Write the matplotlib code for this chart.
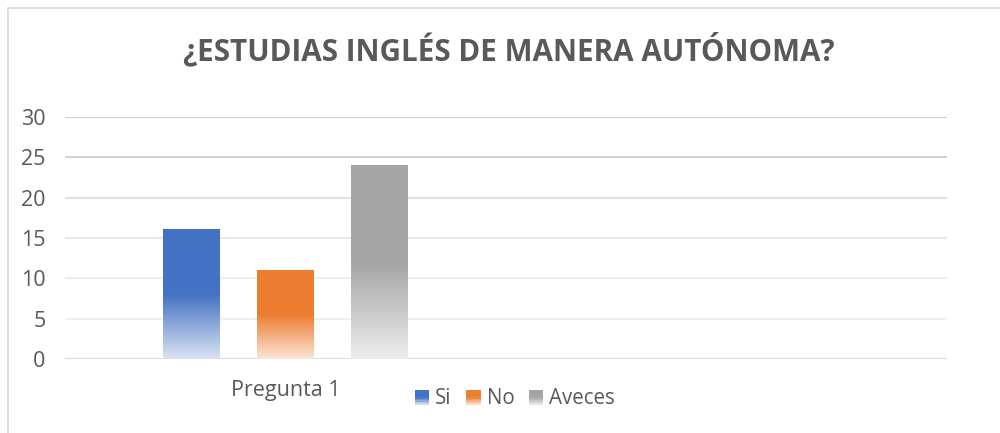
import numpy as np
import matplotlib
matplotlib.use("Agg")
import matplotlib.pyplot as plt
from matplotlib.patches import Rectangle
from matplotlib.colors import to_rgb
from matplotlib.legend_handler import HandlerBase

# ---- data ----
categories = ["Pregunta 1", ""]
series_names = ["Si", "No", "Aveces"]
series_values = {"Si": [16, None], "No": [11, None], "Aveces": [24, None]}
yticks = [0, 5, 10, 15, 20, 25, 30]
title = "¿ESTUDIAS INGLÉS DE MANERA AUTÓNOMA?"

colors = {"Si": "#4472C4", "No": "#ED7D31", "Aveces": "#A5A5A5"}
light = {"Si": "#DAE3F3", "No": "#FBE5D6", "Aveces": "#EDEDED"}

plt.rcParams["font.family"] = ["Open Sans", "DejaVu Sans"]

fig = plt.figure(figsize=(10, 4.33), dpi=100)
ax = fig.add_axes([0.065, 0.1709, 0.882, 0.5589])

x = np.arange(len(categories))
width = 0.129
offsets = [-0.214, 0.0, 0.214]


def gradient_image(c_top, c_bot, n=256, frac=0.5):
    t = np.linspace(0, 1, n)  # 0 bottom -> 1 top
    w = np.clip(t / frac, 0, 1)[:, None]
    top = np.array(to_rgb(c_top))[None, :]
    bot = np.array(to_rgb(c_bot))[None, :]
    img = bot * (1 - w) + top * w
    return img[:, None, :]


for name, off in zip(series_names, offsets):
    vals = series_values[name]
    xs = [xi + off for xi, v in zip(x, vals) if v is not None]
    vs = [v for v in vals if v is not None]
    bars = ax.bar(xs, vs, width=width, color="none", edgecolor="none", zorder=2)
    for b in bars:
        x0, y0, w, h = b.get_x(), b.get_y(), b.get_width(), b.get_height()
        img = gradient_image(colors[name], light[name])
        ax.imshow(img, extent=[x0, x0 + w, y0, y0 + h], origin="lower",
                  aspect="auto", zorder=3, interpolation="bilinear")

ax.set_xlim(-0.5, 1.5)
ax.set_ylim(0, 30)
ax.set_yticks(yticks)
ax.set_xticks(x)
ax.set_xticklabels(categories)

grid_colors = ["#D9D9D9", "#F0F0F0", "#EEEEEE", "#E8E8E8", "#E0E0E0", "#D4D4D4", "#D0D0D0"]
for yv, gc in zip(yticks, grid_colors):
    ax.axhline(yv, color=gc, lw=1.5, zorder=1)

for s in ax.spines.values():
    s.set_visible(False)
ax.tick_params(axis="both", length=0, labelsize=15.5, labelcolor="#595959")
ax.tick_params(axis="y", pad=14)
ax.tick_params(axis="x", pad=15)

fig.text(0.509, 0.884, title, ha="center", va="center", fontsize=21.3,
         fontweight="bold", color="#595959")


class GradHandler(HandlerBase):
    def __init__(self, ctop, cbot):
        super().__init__()
        self.ctop, self.cbot = ctop, cbot

    def create_artists(self, legend, orig_handle, xdescent, ydescent, width,
                       height, fontsize, trans):
        arts = []
        n = 10
        s = min(width, height)
        x0 = -xdescent + (width - s) / 2
        y0 = -ydescent + (height - s) / 2
        top = np.array(to_rgb(self.ctop))
        bot = np.array(to_rgb(self.cbot))
        for i in range(n):
            t = (i + 0.5) / n
            w = min(t / 0.5, 1.0)
            c = bot * (1 - w) + top * w
            r = Rectangle((x0, y0 + s * i / n), s, s / n + 0.3, facecolor=c,
                          edgecolor="none", transform=trans)
            arts.append(r)
        return arts


handles = [Rectangle((0, 0), 1, 1) for _ in series_names]
hmap = {h: GradHandler(colors[n], light[n]) for h, n in zip(handles, series_names)}
fig.legend(handles, series_names, handler_map=hmap, loc="center",
           bbox_to_anchor=(0.515, 1 - 399 / 433), ncol=3, frameon=False,
           fontsize=14.8, labelcolor="#595959", handlelength=0.7,
           handleheight=0.7, handletextpad=0.3, columnspacing=0.7)

# chart border
fig.patches.append(Rectangle((8 / 1000, -0.05), 1.1, 1 - 8 / 433 + 0.05,
                             transform=fig.transFigure, fill=False,
                             edgecolor="#D9D9D9", lw=1.2))

fig.savefig("out.png", dpi=100)
